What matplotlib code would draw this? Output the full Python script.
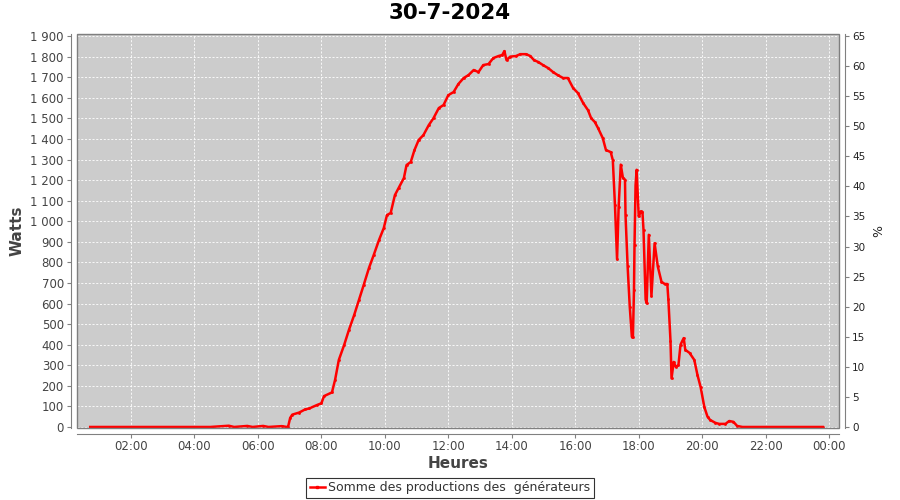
import matplotlib
matplotlib.use("Agg")
import matplotlib.pyplot as plt
from matplotlib.patches import Rectangle
from matplotlib.ticker import FuncFormatter
from matplotlib.lines import Line2D

title = "30-7-2024"
series_name = "Somme des productions des  générateurs"

times = ["00:43","01:30","02:30","03:30","04:30","05:05","05:15","05:40","05:50","06:10","06:20","06:45","06:55",
         "06:57","07:01","07:05","07:18","07:29","07:37","07:52","08:00","08:05","08:20","08:26","08:33","08:43",
         "08:52","09:02","09:11","09:20","09:30","09:39","09:49","09:58","10:04","10:11","10:19","10:26","10:36",
         "10:41","10:49","10:56","11:04","11:13","11:23","11:32","11:42","11:51","12:00","12:10","12:19","12:29",
         "12:38","12:48","12:57","13:06","13:16","13:25","13:35","13:42","13:46","13:50","13:57","14:08","14:16",
         "14:27","14:35","14:42","14:50","14:59","15:09","15:18","15:27","15:37","15:46","15:56","16:05","16:15",
         "16:24","16:30","16:37","16:43","16:52","16:58","17:07","17:11","17:15","17:19","17:22","17:26","17:30",
         "17:34","17:35","17:39","17:43","17:47","17:49","17:51","17:52","17:54","17:56","18:00","18:04","18:07",
         "18:09","18:13","18:15","18:19","18:24","18:30","18:36","18:43","18:49","18:54","18:56","19:00","19:02",
         "19:06","19:10","19:15","19:19","19:25","19:28","19:36","19:45","19:51","19:57","20:04","20:10","20:15",
         "20:25","20:32","20:44","20:51","20:59","21:06","21:16","22:00","23:00","23:48"]

watts = [0,0,0,0,0,6,0,5,0,5,0,4,0,
         0,44,60,70,85,90,107,115,150,168,230,326,398,
         471,544,617,690,773,836,909,967,1030,1040,1127,1161,1210,
         1273,1288,1346,1395,1419,1467,1501,1550,1565,1613,1628,1667,1696,
         1710,1735,1725,1759,1764,1793,1803,1808,1827,1783,1800,1803,1812,
         1812,1803,1783,1774,1759,1744,1725,1710,1696,1696,1647,1623,1574,
         1540,1501,1482,1453,1404,1346,1336,1297,1080,815,1070,1275,1212,
         1202,1030,780,585,438,438,666,884,1175,1250,1023,1048,1045,
         958,620,601,934,637,893,780,706,695,695,620,420,236,
         316,292,300,400,432,375,360,326,253,194,97,50,34,
         20,15,15,29,25,5,0,0,0,0]

y_ticks_w = list(range(0, 2000, 100))
y_ticks_pct = list(range(0, 70, 5))
x_tick_hours = list(range(2, 26, 2))


def to_hours(s):
    h, m = s.split(":")
    return int(h) + int(m) / 60.0


hours = [to_hours(t) for t in times]

fig = plt.figure(figsize=(9, 5), dpi=100)
fig.patch.set_facecolor("white")
ax = fig.add_axes([77/900, 1-428/500, (839-77)/900, (428-34)/500])
ax.set_facecolor("#cccccc")

ax.plot(hours, watts, color="#ff0000", lw=1.8, marker="s", ms=0.9, mec="#ff0000", mfc="#ff0000",
        zorder=3, label=series_name)

ax.set_xlim(0.3, 24.31)
ax.set_ylim(-5, 1910)

ax.set_xticks(x_tick_hours)
ax.set_xticklabels(["%02d:00" % (h % 24) for h in x_tick_hours])
ax.set_yticks(y_ticks_w)
ax.yaxis.set_major_formatter(FuncFormatter(lambda v, p: f"{int(v):,}".replace(",", " ")))

ax.grid(True, color="white", ls=(0, (2.5, 2)), lw=0.6, zorder=1)
ax.set_axisbelow(True)

for s in ["top", "right"]:
    ax.spines[s].set_visible(False)
for s in ["left", "bottom"]:
    ax.spines[s].set_position(("outward", 4))
    ax.spines[s].set_color("#808080")
ax.add_patch(Rectangle((0, 0), 1, 1, transform=ax.transAxes, fill=False, ec="#7f7f7f", lw=1.0,
                       clip_on=False, zorder=4))

ax.tick_params(axis="both", colors="#808080", labelcolor="#444444", labelsize=8.5, length=3, width=0.8)
ax.tick_params(axis="x", pad=1.5)
ax.tick_params(axis="y", pad=2.5)

ax.set_ylabel("Watts", fontsize=11, fontweight="bold", color="#444444", labelpad=4)
ax.set_xlabel("Heures", fontsize=11, fontweight="bold", color="#444444", labelpad=2)

ax2 = ax.twinx()
ax2.set_ylim(-0.17, 65.33)
ax2.set_yticks(y_ticks_pct)
for s in ["top", "left", "bottom"]:
    ax2.spines[s].set_visible(False)
ax2.spines["right"].set_position(("outward", 4))
ax2.spines["right"].set_color("#808080")
ax2.tick_params(axis="y", colors="#808080", labelcolor="#222222", labelsize=7.5, length=3, width=0.8, pad=2.5)
ax2.set_ylabel("%", fontsize=9, color="#222222", labelpad=5)

fig.text(0.5, 1-13/500, title, ha="center", va="center", fontsize=15.5, fontweight="bold",
         family=["Liberation Sans Narrow", "DejaVu Sans"], color="black")

handle = Line2D([], [], color="#ff0000", lw=1.8, marker="s", ms=1.6)
leg = fig.legend([handle], [series_name], loc="lower center", bbox_to_anchor=(0.5, 0.0),
                 frameon=True, fancybox=False, edgecolor="black", fontsize=9, handlelength=1.2,
                 handletextpad=0.3, borderpad=0.25, borderaxespad=0.2)
leg.get_frame().set_linewidth(0.8)
for t in leg.get_texts():
    t.set_color("#333333")

fig.savefig("out.png", dpi=100)
